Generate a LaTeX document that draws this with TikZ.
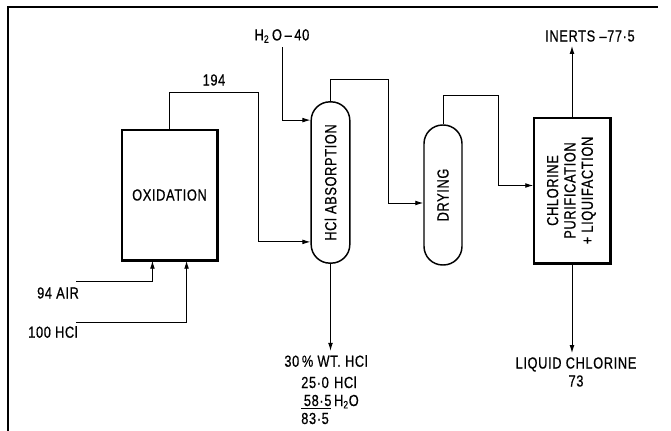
\documentclass[tikz,border=0pt]{standalone}
\usepackage{fontspec}
\setmainfont{Liberation Sans}[FakeStretch=0.8, LetterSpace=4, FakeBold=0.6]
\usepackage{tikz}
\usetikzlibrary{arrows.meta,positioning,calc}

\begin{document}
\begin{tikzpicture}[x=0.75pt, y=-0.75pt,
  unit/.style={rectangle, draw=black, line width=1.1pt, align=center,
    font=\fontsize{12}{13}\selectfont},
  column/.style={rectangle, rounded corners=14pt, draw=black, line width=1.1pt,
    font=\fontsize{12}{13}\selectfont},
  shade/.style={line width=2.2pt},
  lbl/.style={inner sep=3pt, align=center, font=\fontsize{12}{13.5}\selectfont},
  flow/.style={-{Latex[length=6pt,width=3.6pt]}, line width=0.7pt}
]
\useasboundingbox (0,0) rectangle (671,431);
% frame
\draw[line width=1pt] (8,431) -- (8,7) -- (658,7);

% units
\node[unit, minimum width=71pt, minimum height=97.5pt] (ox) at (169.5,195) {OXIDATION};
\node[column, minimum width=29pt, minimum height=121pt] (abs) at (330.5,182.5)
  {\rotatebox{90}{HCl ABSORPTION}};
\node[column, minimum width=28.5pt, minimum height=105pt] (dry) at (443,195)
  {\rotatebox{90}{DRYING}};
\node[unit, minimum width=57pt, minimum height=108.75pt] (pur) at (572,190.5)
  {\rotatebox{90}{\begin{tabular}{@{}c@{}}CHLORINE\\PURIFICATION\\+ LIQUIFACTION\end{tabular}}};
\draw[shade] (ox.north east) -- (ox.south east) -- (ox.south west);
\draw[shade] (pur.north east) -- (pur.south east) -- (pur.south west);

% stream labels
\node[lbl] (t194) at (214,80) {194};
\node[lbl] (water) at (282,36) {H\textsubscript{2}\,O\,–\,40};
\node[lbl] (inerts) at (590,36) {INERTS –77·5};
\node[lbl] (liquid) at (576,372) {LIQUID CHLORINE\\73};
\node[lbl] (acid) at (326,361) {30\,\% WT. HCl};
\node[lbl, below=0pt of acid, xshift=3pt] (comp)
  {\begin{tabular}{@{}l@{\,}l@{}}25·0 & HCl\\ \underline{\,58·5} & H\textsubscript{2}O\\ 83·5 & \end{tabular}};
\node[lbl] (air) at (58,293) {94 AIR};
\node[lbl] (hclfeed) at (53,332) {100 HCl};
\coordinate (airin) at (76,281);
\coordinate (hclin) at (76,322);
\coordinate (r194) at (258,92);
\coordinate (r1) at (388,79);
\coordinate (r2) at (498,95);

% streams
\draw[flow] (airin) -| ($(ox.south west)+(31,0)$);
\draw[flow] (hclin) -| ($(ox.south east)+(-31,0)$);
\draw[flow] (ox.north) |- (r194) |- ($(abs.south west)+(0,-22)$);
\draw[flow] (water.south) |- ($(abs.north west)+(0,19)$);
\draw[flow] (abs.north) |- (r1) |- ($(dry.west)+(0,8)$);
\draw[flow] (dry.north) |- (r2) |- ($(pur.west)+(0,-5)$);
\draw[flow] (abs.south) -- (abs.south |- acid.north);
\draw[flow] (pur.north) -- (pur.north |- inerts.south);
\draw[flow] (pur.south) -- (pur.south |- liquid.north);
\end{tikzpicture}
\end{document}
